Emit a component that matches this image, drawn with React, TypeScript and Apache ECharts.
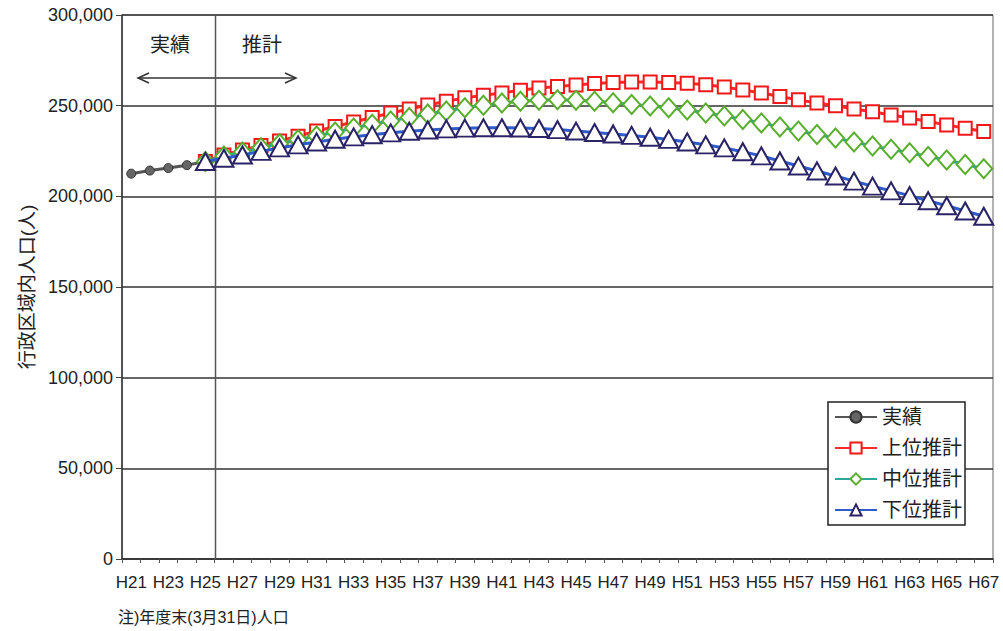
import React, { useEffect, useRef } from "react";
import * as echarts from "echarts";

const categories: string[] = [];
for (let y = 21; y <= 67; y++) categories.push("H" + y);

// 実績 H21–H25
const actual = [212500, 214200, 215600, 217200, 219200];

// 上位推計 H25–H67
const upper = [
  219200, 222800, 225600, 228000, 230500, 233200, 236000, 238500, 241000, 243500,
  246000, 248200, 250400, 252400, 254300, 255700, 257000, 258500, 259800, 260600,
  261400, 262200, 262800, 263000, 263000, 262800, 262400, 261500, 260300, 258700,
  257000, 255100, 253200, 251500, 249900, 248200, 246600, 244900, 243200, 241300,
  239400, 237600, 235800,
];

// 中位推計 H25–H67
const middle = [
  219200, 222300, 224500, 226800, 229000, 231200, 233300, 235500, 237700, 239700,
  241600, 243500, 245400, 247100, 248800, 250200, 251500, 252400, 253000, 253200,
  253000, 252400, 251600, 250700, 249800, 248800, 247600, 246000, 244300, 242400,
  240500, 238300, 236000, 234100, 232200, 230000, 227800, 225900, 224000, 222000,
  220000, 217600, 215200,
];

// 下位推計 H25–H67
const lower = [
  219200, 221000, 222800, 224800, 226700, 228400, 230000, 231500, 232800, 234000,
  235000, 235900, 236600, 237200, 237600, 237800, 237800, 237700, 237400, 236800,
  236000, 235200, 234400, 233600, 232600, 231400, 230000, 228400, 226700, 224600,
  222300, 219500, 216700, 214000, 211200, 208400, 205600, 203000, 200400, 197600,
  194800, 191900, 189000,
];

const yTicks = [0, 50000, 100000, 150000, 200000, 250000, 300000];

const FONT = "'Liberation Sans', Arial, 'Noto Sans CJK JP', sans-serif";

function padActual(): (number | null)[] {
  const out: (number | null)[] = categories.map(() => null);
  actual.forEach((v, i) => (out[i] = v));
  return out;
}
function padProj(arr: number[]): (number | null)[] {
  const start = categories.indexOf("H25");
  const out: (number | null)[] = categories.map(() => null);
  arr.forEach((v, i) => (out[start + i] = v));
  return out;
}

export default function App() {
  const ref = useRef<HTMLDivElement>(null);
  useEffect(() => {
    if (!ref.current) return;
    const chart = echarts.init(ref.current, undefined, { renderer: "svg" });
    const option: any = {
      animation: false,
      backgroundColor: "#ffffff",
      textStyle: { fontFamily: FONT },
      grid: {
        left: 122,
        right: 10,
        top: 15,
        bottom: 72,
        show: true,
        borderColor: "#666",
        borderWidth: 1,
        containLabel: false,
      },
      legend: {
        orient: "vertical",
        left: 828,
        top: 402,
        itemWidth: 42,
        itemHeight: 14,
        itemGap: 11,
        padding: [5, 3, 5, 6],
        borderColor: "#222",
        borderWidth: 1.5,
        backgroundColor: "#fff",
        textStyle: { fontSize: 20, color: "#222", fontFamily: FONT },
        data: ["実績", "上位推計", "中位推計", "下位推計"],
      },
      xAxis: {
        type: "category",
        data: categories,
        boundaryGap: true,
        axisLine: { lineStyle: { color: "#333", width: 1.5 } },
        axisTick: { show: true, interval: 0, length: 4, lineStyle: { color: "#555" } },
        axisLabel: {
          interval: 1,
          fontSize: 17,
          color: "#222",
          margin: 15,
          fontFamily: FONT,
        },
        splitLine: { show: false },
      },
      yAxis: {
        type: "value",
        min: 0,
        max: 300000,
        interval: 50000,
        name: "行政区域内人口(人)",
        nameLocation: "middle",
        nameGap: 79,
        nameRotate: 90,
        nameTextStyle: { fontSize: 19, color: "#222", fontFamily: FONT },
        axisLine: { show: true, lineStyle: { color: "#333", width: 1.5 } },
        axisTick: { show: true, length: 6, lineStyle: { color: "#444" } },
        axisLabel: {
          fontSize: 18,
          color: "#222",
          margin: 9,
          fontFamily: FONT,
          formatter: (v: number) =>
            yTicks.includes(v) ? v.toLocaleString("en-US") : "",
        },
        splitLine: { show: true, lineStyle: { color: "#333", width: 1.5 } },
      },
      series: [
        {
          name: "実績",
          type: "line",
          data: padActual(),
          symbol: "circle",
          symbolSize: 9,
          lineStyle: { color: "#555", width: 3 },
          itemStyle: { color: "#666", borderColor: "#333", borderWidth: 1 },
          z: 2,
        },
        {
          name: "上位推計",
          type: "line",
          data: padProj(upper),
          symbol: "rect",
          symbolSize: 13,
          showAllSymbol: true,
          lineStyle: { color: "#ff2a2a", width: 3 },
          itemStyle: { color: "#fff", borderColor: "#f01818", borderWidth: 2 },
          z: 3,
        },
        {
          name: "中位推計",
          type: "line",
          data: padProj(middle),
          symbol: "diamond",
          symbolSize: [17, 19],
          showAllSymbol: true,
          lineStyle: { color: "#2fa69a", width: 3 },
          itemStyle: { color: "#fff", borderColor: "#5aae2e", borderWidth: 2 },
          z: 4,
        },
        {
          name: "下位推計",
          type: "line",
          data: padProj(lower),
          symbol: "triangle",
          symbolSize: [19, 17],
          showAllSymbol: true,
          lineStyle: { color: "#2f5cc8", width: 3 },
          itemStyle: { color: "#fff", borderColor: "#2a2466", borderWidth: 2 },
          z: 5,
        },
      ],
    };
    chart.setOption(option);

    const xa = chart.convertToPixel({ xAxisIndex: 0 }, "H25") as number;
    const xb = chart.convertToPixel({ xAxisIndex: 0 }, "H26") as number;
    const xd = Math.round((xa + xb) / 2) + 0.5;
    const yTop = chart.convertToPixel({ yAxisIndex: 0 }, 300000) as number;
    const yBot = chart.convertToPixel({ yAxisIndex: 0 }, 0) as number;

    chart.setOption({
      graphic: [
        {
          type: "line",
          shape: { x1: xd, y1: yTop, x2: xd, y2: yBot },
          style: { stroke: "#555", lineWidth: 1.5 },
          z: 1,
        },
        {
          type: "text",
          left: 150,
          top: 35,
          style: { text: "実績", fontSize: 20, fill: "#222", fontFamily: FONT },
        },
        {
          type: "text",
          left: 242,
          top: 35,
          style: { text: "推計", fontSize: 20, fill: "#222", fontFamily: FONT },
        },
        {
          type: "line",
          shape: { x1: 138, y1: 78, x2: 296, y2: 78 },
          style: { stroke: "#333", lineWidth: 1.5 },
        },
        {
          type: "polyline",
          shape: { points: [[149, 73], [138, 78], [149, 83]] },
          style: { stroke: "#333", lineWidth: 1.5, fill: "none" },
        },
        {
          type: "polyline",
          shape: { points: [[285, 73], [296, 78], [285, 83]] },
          style: { stroke: "#333", lineWidth: 1.5, fill: "none" },
        },
        {
          type: "text",
          left: 118,
          top: 609,
          style: {
            text: "注)年度末(3月31日)人口",
            fontSize: 16,
            fill: "#222",
            fontFamily: FONT,
          },
        },
      ],
    });

    return () => chart.dispose();
  }, []);

  return (
    <div
      ref={ref}
      style={{ width: 1003, height: 631, position: "absolute", left: 0, top: 0 }}
    />
  );
}
